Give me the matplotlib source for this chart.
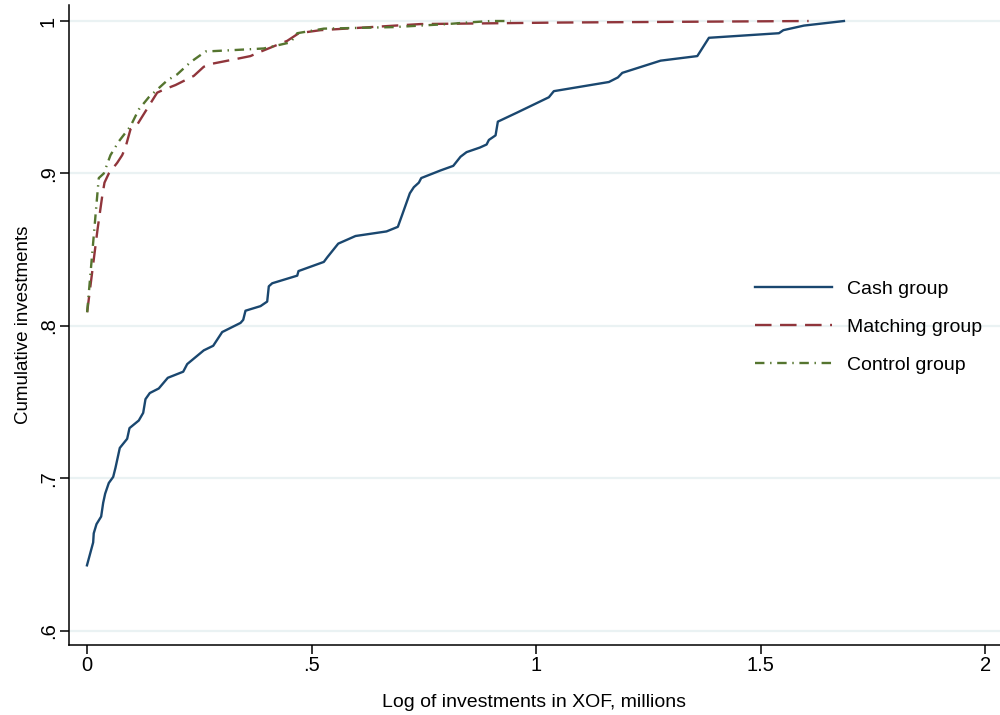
import matplotlib
matplotlib.use("Agg")
import matplotlib.pyplot as plt

plt.rcParams["font.family"] = ["Liberation Sans", "DejaVu Sans"]

# cumulative distributions
cash_x = [0.000, 0.0138, 0.0151, 0.0212, 0.0316, 0.0361, 0.0405, 0.0486, 0.0584, 0.0635,
          0.0731, 0.0895, 0.0947, 0.1154, 0.1252, 0.1303, 0.1399, 0.1599, 0.1800, 0.2143,
          0.2232, 0.2601, 0.2811, 0.3011, 0.3419, 0.3479, 0.3530, 0.3864, 0.4013, 0.4049,
          0.4125, 0.4682, 0.4710, 0.5274, 0.5350, 0.5595, 0.5980, 0.6670, 0.6922, 0.7020,
          0.7189, 0.7278, 0.7390, 0.7443, 0.7873, 0.8156, 0.8318, 0.8452, 0.8748, 0.8898,
          0.8949, 0.9098, 0.9149, 0.9581, 1.0285, 1.0396, 1.1621, 1.1822, 1.1920, 1.2773,
          1.3590, 1.3849, 1.5408, 1.5506, 1.5964, 1.6855]
cash_y = [0.643, 0.658, 0.664, 0.670, 0.675, 0.684, 0.690, 0.697, 0.701, 0.707,
          0.720, 0.726, 0.733, 0.738, 0.743, 0.752, 0.756, 0.759, 0.766, 0.770,
          0.775, 0.784, 0.787, 0.796, 0.802, 0.804, 0.810, 0.813, 0.816, 0.826,
          0.828, 0.833, 0.836, 0.842, 0.845, 0.854, 0.859, 0.862, 0.865, 0.873,
          0.887, 0.891, 0.894, 0.897, 0.902, 0.905, 0.911, 0.914, 0.917, 0.919,
          0.922, 0.925, 0.934, 0.940, 0.950, 0.954, 0.960, 0.963, 0.966, 0.974,
          0.977, 0.989, 0.992, 0.994, 0.997, 1.000]

match_x = [0.0004, 0.0234, 0.0339, 0.0390, 0.0486, 0.0673, 0.0784, 0.0857, 0.0969, 0.1118,
           0.1414, 0.1563, 0.1710, 0.1971, 0.2379, 0.2601, 0.2788, 0.3307, 0.3641, 0.3791,
           0.4459, 0.4717, 0.5200, 0.7428, 1.0546, 1.6069]
match_y = [0.809, 0.863, 0.885, 0.894, 0.900, 0.907, 0.912, 0.917, 0.929, 0.932,
           0.946, 0.953, 0.955, 0.958, 0.964, 0.970, 0.972, 0.975, 0.977, 0.979,
           0.987, 0.992, 0.994, 0.998, 0.999, 1.000]

control_x = [0.0004, 0.0227, 0.0263, 0.0374, 0.0523, 0.0708, 0.0969, 0.1154, 0.1376, 0.1786,
             0.2009, 0.2305, 0.2639, 0.3307, 0.3938, 0.4532, 0.4682, 0.5274, 0.6826, 0.8022,
             0.8468, 0.8987, 0.9432]
control_y = [0.809, 0.885, 0.897, 0.900, 0.912, 0.921, 0.931, 0.942, 0.950, 0.961,
             0.965, 0.973, 0.980, 0.981, 0.982, 0.986, 0.992, 0.995, 0.996, 0.998,
             0.999, 1.000, 1.000]

x_ticks = [0, 0.5, 1, 1.5, 2]
x_tick_labels = ["0", ".5", "1", "1.5", "2"]
y_ticks = [0.6, 0.7, 0.8, 0.9, 1.0]
y_tick_labels = [".6", ".7", ".8", ".9", "1"]

fig = plt.figure(figsize=(10, 7.15), dpi=100)
ax = fig.add_axes([0.069, 0.098, 0.931, 0.895])

ax.plot(cash_x, cash_y, color="#1a476f", lw=1.7, label="Cash group")
ax.plot(match_x, match_y, color="#90353b", lw=1.7, dashes=(7, 3.6), label="Matching group")
ax.plot(control_x, control_y, color="#55752f", lw=1.7, dashes=(4, 2.4, 0.6, 2.4),
        label="Control group")

ax.set_xlim(-0.04, 2.033)
ax.set_ylim(0.5908, 1.0105)
ax.set_xticks(x_ticks)
ax.set_xticklabels(x_tick_labels)
ax.set_yticks(y_ticks)
ax.set_yticklabels(y_tick_labels, rotation=90, va="center")
ax.tick_params(labelsize=14.5, length=6.5, width=1.1, color="black", pad=1.5)
ax.grid(axis="y", color="#eaf2f3", lw=1.6)
ax.set_axisbelow(True)

for side in ["top", "right"]:
    ax.spines[side].set_visible(False)
for side in ["left", "bottom"]:
    ax.spines[side].set_linewidth(1.1)

ax.set_xlabel("Log of investments in XOF, millions", fontsize=14, labelpad=14)
ax.set_ylabel("Cumulative investments", fontsize=13.5, labelpad=5)

ax.legend(loc="center left", bbox_to_anchor=(0.755, 0.5427), bbox_transform=fig.transFigure,
          frameon=False, fontsize=14, handlelength=3.95, handletextpad=0.8,
          labelspacing=1.05, borderpad=0, borderaxespad=0)

fig.savefig("out.png", dpi=100)
